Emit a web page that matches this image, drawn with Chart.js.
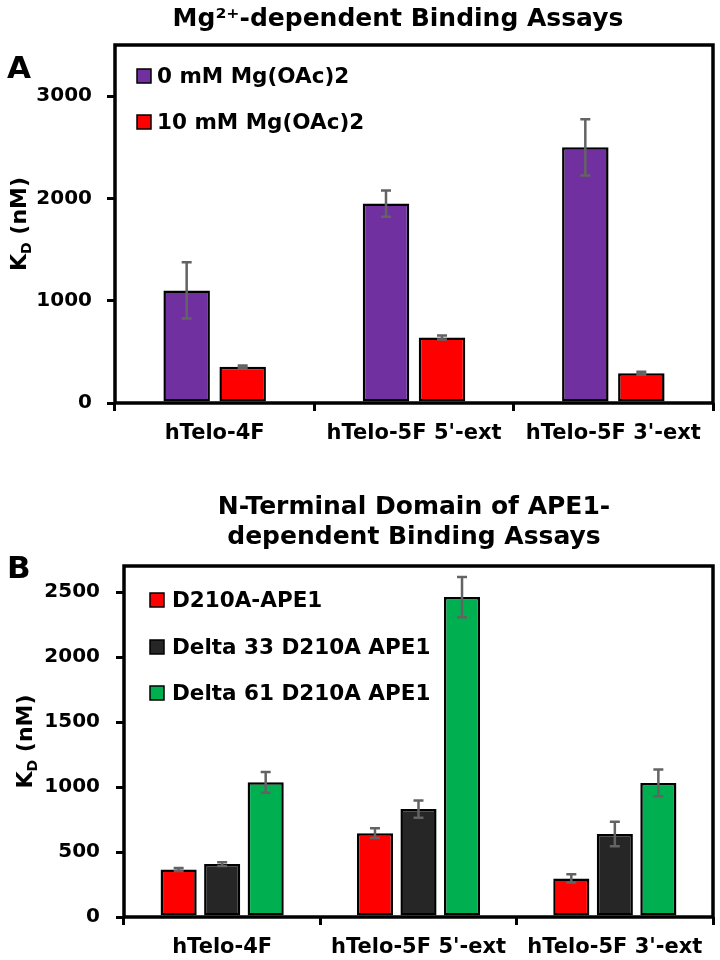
<!DOCTYPE html>
<html><head><meta charset="utf-8">
<script src="https://cdn.jsdelivr.net/npm/chart.js@4.4.0/dist/chart.umd.min.js"></script>
<style>
html,body{margin:0;padding:0;background:#fff;}
#wrap{position:relative;width:720px;height:960px;overflow:hidden;}
canvas{position:absolute;left:0;}
</style></head><body>
<div id="wrap">
<canvas id="c1" width="720" height="480" style="top:0"></canvas>
<canvas id="c2" width="720" height="480" style="top:480px"></canvas>
</div>
<script>
// ---------- data ----------
const categories = ['hTelo-4F', "hTelo-5F 5'-ext", "hTelo-5F 3'-ext"];

const titleA = 'Mg\u00B2\u207A-dependent Binding Assays';
const titleB = ['N-Terminal Domain of APE1-', 'dependent Binding Assays'];
const yTitleMain = 'K', yTitleSub = 'D', yTitleRest = ' (nM)';

const mg0Label = '0 mM Mg(OAc)2';
const mg0 = [1100, 1950, 2500];
const mg0Err = [275, 128, 275];
const mg10Label = '10 mM Mg(OAc)2';
const mg10 = [355, 640, 290];
const mg10Err = [12, 20, 15];

const d210aLabel = 'D210A-APE1';
const d210a = [365, 645, 297];
const d210aErr = [12, 38, 32];
const delta33Label = 'Delta 33 D210A APE1';
const delta33 = [407, 830, 639];
const delta33Err = [15, 67, 94];
const delta61Label = 'Delta 61 D210A APE1';
const delta61 = [1036, 2461, 1031];
const delta61Err = [80, 155, 103];

const ticksA = [0, 1000, 2000, 3000];
const maxA = 3500;
const ticksB = [0, 500, 1000, 1500, 2000, 2500];
const maxB = 2700;

// ---------- styling ----------
const FONT = '"DejaVu Sans", "Liberation Sans", sans-serif';
const PURPLE = '#7030A0', RED = '#FF0000', DARK = '#262626', GREEN = '#00B050';
const ERR = '#636363';

const decor = {
  id: 'decor',
  afterDatasetsDraw(chart, args, o) {
    const ctx = chart.ctx, a = chart.chartArea;
    ctx.save();
    ctx.strokeStyle = '#000';
    ctx.lineWidth = 3.5;
    ctx.strokeRect(a.left, a.top, a.right - a.left, a.bottom - a.top);
    const ys = chart.scales.y;
    chart.data.datasets.forEach((ds, i) => {
      const meta = chart.getDatasetMeta(i);
      meta.data.forEach((bar, j) => {
        const v = ds.data[j], e = ds.errors[j];
        const x = bar.x;
        const y1 = ys.getPixelForValue(v + e), y2 = ys.getPixelForValue(v - e);
        ctx.strokeStyle = ERR;
        ctx.lineWidth = 2.5;
        ctx.beginPath();
        ctx.moveTo(x, y1); ctx.lineTo(x, y2);
        ctx.moveTo(x - 5, y1); ctx.lineTo(x + 5, y1);
        ctx.moveTo(x - 5, y2); ctx.lineTo(x + 5, y2);
        ctx.stroke();
      });
    });
    ctx.restore();
  },
  afterDraw(chart, args, o) {
    const ctx = chart.ctx, a = chart.chartArea;
    ctx.save();
    ctx.fillStyle = '#000';
    // title
    ctx.font = 'bold 25px ' + FONT;
    ctx.textAlign = 'center';
    ctx.textBaseline = 'alphabetic';
    o.title.forEach((t, i) => ctx.fillText(t, o.titleX, o.titleY + i * 30));
    // panel letter
    ctx.font = 'bold 31px ' + FONT;
    ctx.textAlign = 'left';
    ctx.fillText(o.letter, 7, o.letterY);
    // legend
    ctx.font = 'bold ' + o.legendSize + 'px ' + FONT;
    ctx.textBaseline = 'middle';
    chart.data.datasets.forEach((ds, i) => {
      const cy = o.legendY[i];
      ctx.fillStyle = ds.backgroundColor;
      ctx.fillRect(o.legendX, cy - 7, 14, 14);
      ctx.strokeStyle = '#000';
      ctx.lineWidth = 1.5;
      ctx.strokeRect(o.legendX, cy - 7, 14, 14);
      ctx.fillStyle = '#000';
      ctx.fillText(ds.label, o.legendTextX, cy + 1);
    });
    // y title
    const cy = (a.top + a.bottom) / 2;
    ctx.translate(o.yTitleX, cy);
    ctx.rotate(-Math.PI / 2);
    ctx.textBaseline = 'alphabetic';
    ctx.textAlign = 'left';
    const big = 'bold 22px ' + FONT, small = 'bold 14px ' + FONT;
    ctx.font = big; const w1 = ctx.measureText(yTitleMain).width;
    const w3 = ctx.measureText(yTitleRest).width;
    ctx.font = small; const w2 = ctx.measureText(yTitleSub).width;
    let x = -(w1 + w2 + w3) / 2;
    ctx.font = big; ctx.fillText(yTitleMain, x, 0); x += w1;
    ctx.font = small; ctx.fillText(yTitleSub, x, 5); x += w2;
    ctx.font = big; ctx.fillText(yTitleRest, x, 0);
    ctx.restore();
  }
};

function makeChart(id, datasets, ticks, max, cfg) {
  return new Chart(document.getElementById(id), {
    type: 'bar',
    data: { labels: categories, datasets },
    options: {
      responsive: false,
      animation: false,
      devicePixelRatio: 1,
      layout: { autoPadding: false, padding: { left: 0, top: cfg.top, right: 7, bottom: 0 } },
      datasets: { bar: { categoryPercentage: cfg.catPct, barPercentage: cfg.barPct } },
      plugins: {
        legend: { display: false },
        tooltip: { enabled: false },
        title: { display: false },
        decor: cfg.decor
      },
      scales: {
        x: {
          grid: { display: true, drawOnChartArea: false, drawTicks: true, tickLength: 8, color: '#000', lineWidth: 3, offset: true },
          border: { display: false },
          ticks: { color: '#000', font: { family: FONT, size: 21, weight: 'bold' }, padding: 10, maxRotation: 0, autoSkip: false },
          afterFit: s => { s.height = cfg.xh; }
        },
        y: {
          min: 0, max: max,
          grid: { display: true, drawOnChartArea: false, drawTicks: true, tickLength: 8, color: '#000', lineWidth: 3 },
          border: { display: false },
          ticks: { color: '#000', font: { family: FONT, size: 20, weight: 'bold' }, padding: cfg.tickPad, callback: v => String(v) },
          afterBuildTicks: s => { s.ticks = ticks.map(v => ({ value: v })); },
          afterFit: s => { s.width = cfg.yw; }
        }
      }
    },
    plugins: [decor]
  });
}

const bar = (label, data, errors, color) => ({
  label, data, errors, backgroundColor: color, borderColor: '#000', borderWidth: 2.5, borderSkipped: false
});

makeChart('c1', [
  bar(mg0Label, mg0, mg0Err, PURPLE),
  bar(mg10Label, mg10, mg10Err, RED)
], ticksA, maxA, {
  top: 45, xh: 77, yw: 115, tickPad: 15, catPct: 0.562, barPct: 0.83,
  decor: { title: [titleA], titleX: 398, titleY: 26, letter: 'A', letterY: 78,
           legendX: 137, legendTextX: 157, legendY: [76, 122], legendSize: 21.5, yTitleX: 26 }
});

makeChart('c2', [
  bar(d210aLabel, d210a, d210aErr, RED),
  bar(delta33Label, delta33, delta33Err, DARK),
  bar(delta61Label, delta61, delta61Err, GREEN)
], ticksB, maxB, {
  top: 86, xh: 43, yw: 124, tickPad: 16, catPct: 0.665, barPct: 0.83,
  decor: { title: titleB, titleX: 414, titleY: 34, letter: 'B', letterY: 98,
           legendX: 150, legendTextX: 172, legendY: [120, 167, 213], legendSize: 21.5, yTitleX: 32 }
});
</script>
</body></html>
